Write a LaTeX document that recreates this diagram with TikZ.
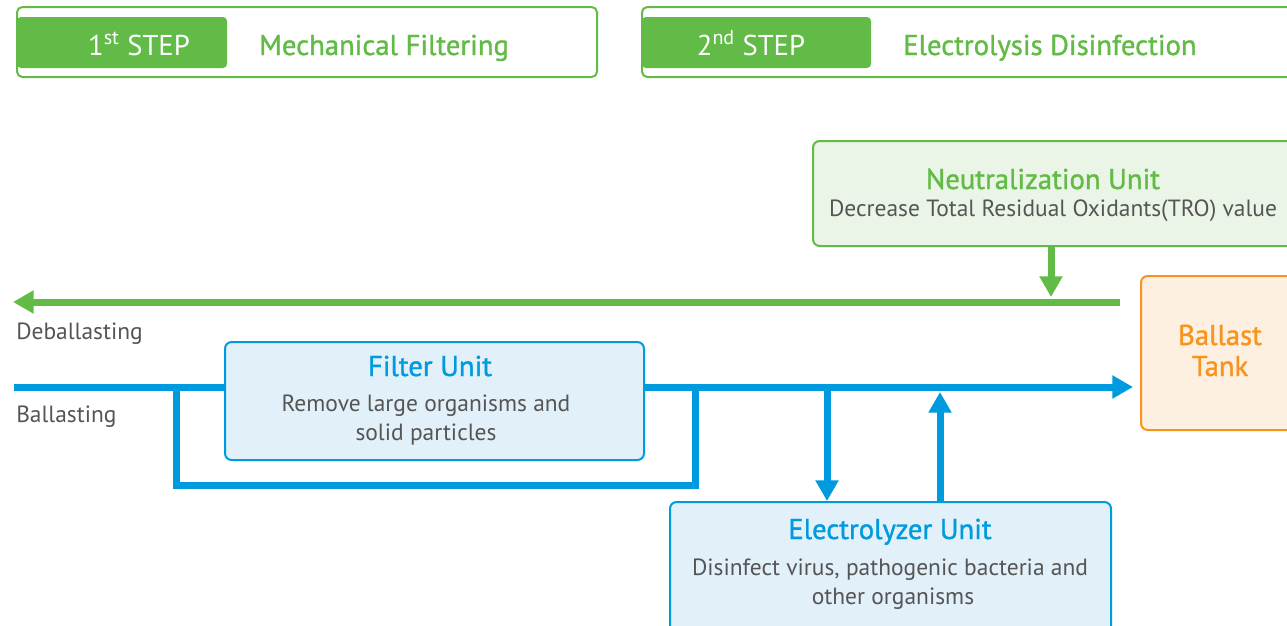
\documentclass[tikz,border=0pt]{standalone}
\usepackage{fontspec}
\setmainfont{PT Sans}
\newfontfamily\headfont{PT Sans}[FakeBold=1.2]
\usetikzlibrary{arrows.meta,fit}
\definecolor{cgreen}{HTML}{62BB46}
\definecolor{cgreenfill}{HTML}{EBF5E7}
\definecolor{cblue}{HTML}{009ADE}
\definecolor{cbluefill}{HTML}{E1F0F9}
\definecolor{corange}{HTML}{F7941D}
\definecolor{corangefill}{HTML}{FEF0E1}
\definecolor{cgray}{HTML}{555555}
\begin{document}
\begin{tikzpicture}[x=0.75pt,y=-0.75pt,
  stepframe/.style={draw=cgreen,line width=1.5pt,rounded corners=4pt,inner sep=0pt},
  steptab/.style={fill=cgreen,rounded corners=3pt,inner sep=0pt},
  unitbox/.style={line width=1.5pt,rounded corners=5pt,inner sep=0pt},
  head/.style={inner sep=0pt,text height=15pt,text depth=0pt,anchor=center,font=\headfont\fontsize{21.5}{26}\selectfont},
  stephead/.style={inner sep=0pt,text height=15pt,text depth=0pt,anchor=center,font=\fontsize{21.5}{26}\selectfont},
  body/.style={inner sep=0pt,text height=12.3pt,text depth=0pt,anchor=center,font=\fontsize{17.6}{21}\selectfont,text=cgray},
  pipe/.style={line width=5.25pt},
  tip/.style={-{Triangle[width=16.5pt,length=15.5pt]}}]
\useasboundingbox (0,0) rectangle (1287,625);
\clip (0,0) rectangle (1287,625);
% step headers
\node[stepframe,fit={(17,7) (597,77)}] (step1) {};
\node[steptab,fit={(17,17) (227,68)}] (tab1) {};
\node[stephead,text=white] (s1t) at (139,45) {1\textsuperscript{st} STEP};
\node[head,text=cgreen,anchor=west] (s1h) at (259,45) {Mechanical Filtering};
\node[stepframe,fit={(642,7) (1300,77)}] (step2) {};
\node[steptab,fit={(642,17) (871,68)}] (tab2) {};
\node[stephead,text=white] (s2t) at (751,45) {2\textsuperscript{nd} STEP};
\node[head,text=cgreen,anchor=west] (s2h) at (903,45) {Electrolysis Disinfection};
% coordinates
\coordinate (debR) at (1120,302);
\coordinate (debL) at (13,302);
\coordinate (balL) at (14,387);
\coordinate (balR) at (1133,387);
\coordinate (byA) at (176,387);
\coordinate (byB) at (176,485);
\coordinate (byC) at (695,485);
\coordinate (byD) at (695,387);
\coordinate (nTop) at (1051,246);
\coordinate (nTip) at (1051,297);
\coordinate (eInTop) at (827,387);
\coordinate (eInTip) at (827,501);
\coordinate (eOutBot) at (940,502);
\coordinate (eOutTip) at (940,392);
% pipes
\draw[pipe,cgreen,tip] (debR) -- (debL);
\draw[pipe,cgreen,tip] (nTop) -- (nTip);
\draw[pipe,cblue] (byA) -- (byB) -- (byC) -- (byD);
\draw[pipe,cblue,tip] (balL) -- (balR);
\draw[pipe,cblue,tip] (eInTop) -- (eInTip);
\draw[pipe,cblue,tip] (eOutBot) -- (eOutTip);
% units
\node[unitbox,draw=cgreen,fill=cgreenfill,fit={(813,141) (1300,246)}] (neut) {};
\node[head,text=cgreen] (neutT) at (1043,179) {Neutralization Unit};
\node[body] (neutB) at (1053,208) {Decrease Total Residual Oxidants(TRO) value};
\node[unitbox,draw=corange,fill=corangefill,fit={(1141,276) (1300,430)}] (tank) {};
\node[head,text=corange] (tankA) at (1220,335) {Ballast};
\node[head,text=corange] (tankB) at (1220,366) {Tank};
\node[unitbox,draw=cblue,fill=cbluefill,fit={(225,342) (644,460)}] (filter) {};
\node[head,text=cblue] (filterT) at (430,366) {Filter Unit};
\node[body] (filterB1) at (426,403) {Remove large organisms and};
\node[body] (filterB2) at (426,432) {solid particles};
\node[unitbox,draw=cblue,fill=cbluefill,fit={(670,502) (1111,640)}] (elec) {};
\node[head,text=cblue] (elecT) at (890,529) {Electrolyzer Unit};
\node[body] (elecB1) at (890,567) {Disinfect virus, pathogenic bacteria and};
\node[body] (elecB2) at (893,596) {other organisms};
% labels
\node[body,anchor=west] (deb) at (16,331) {Deballasting};
\node[body,anchor=west] (bal) at (16,414) {Ballasting};
\end{tikzpicture}
\end{document}
